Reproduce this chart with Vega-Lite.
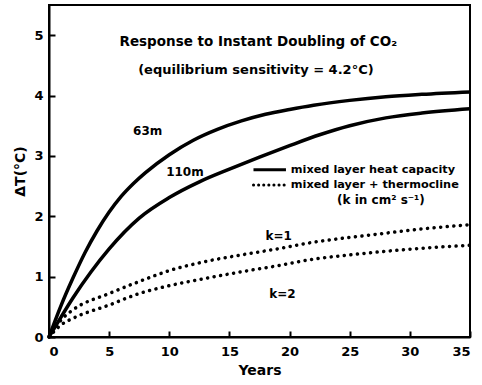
{
  "$schema": "https://vega.github.io/schema/vega-lite/v6.json",
  "autosize": "none",
  "width": 421,
  "height": 332,
  "padding": {"left": 49, "top": 5, "right": 12, "bottom": 48},
  "background": "white",
  "config": {
    "view": {"stroke": "black", "strokeWidth": 2},
    "font": "DejaVu Sans",
    "axis": {"grid": false, "domainColor": "black", "domainWidth": 2, "tickColor": "black", "tickWidth": 2, "labelColor": "black", "titleColor": "black", "labelFont": "DejaVu Sans", "titleFont": "DejaVu Sans", "labelFontWeight": "bold", "titleFontWeight": "bold", "labelFontSize": 13, "titleFontSize": 14}
  },
  "datasets": {
    "curves": [
      {"series": "63m", "style": "solid", "t": 0, "dT": 0},
      {"series": "63m", "style": "solid", "t": 1, "dT": 0.52},
      {"series": "63m", "style": "solid", "t": 2, "dT": 0.98},
      {"series": "63m", "style": "solid", "t": 3, "dT": 1.4},
      {"series": "63m", "style": "solid", "t": 4, "dT": 1.76},
      {"series": "63m", "style": "solid", "t": 5, "dT": 2.07},
      {"series": "63m", "style": "solid", "t": 6, "dT": 2.33},
      {"series": "63m", "style": "solid", "t": 7, "dT": 2.54},
      {"series": "63m", "style": "solid", "t": 8, "dT": 2.72},
      {"series": "63m", "style": "solid", "t": 10, "dT": 3.02},
      {"series": "63m", "style": "solid", "t": 12, "dT": 3.26},
      {"series": "63m", "style": "solid", "t": 14, "dT": 3.44},
      {"series": "63m", "style": "solid", "t": 16, "dT": 3.58},
      {"series": "63m", "style": "solid", "t": 18, "dT": 3.69},
      {"series": "63m", "style": "solid", "t": 20, "dT": 3.77},
      {"series": "63m", "style": "solid", "t": 22, "dT": 3.84},
      {"series": "63m", "style": "solid", "t": 25, "dT": 3.92},
      {"series": "63m", "style": "solid", "t": 28, "dT": 3.98},
      {"series": "63m", "style": "solid", "t": 31, "dT": 4.02},
      {"series": "63m", "style": "solid", "t": 35, "dT": 4.06},
      {"series": "110m", "style": "solid", "t": 0, "dT": 0},
      {"series": "110m", "style": "solid", "t": 1, "dT": 0.33},
      {"series": "110m", "style": "solid", "t": 2, "dT": 0.65},
      {"series": "110m", "style": "solid", "t": 3.5, "dT": 1.08},
      {"series": "110m", "style": "solid", "t": 5, "dT": 1.46},
      {"series": "110m", "style": "solid", "t": 7.5, "dT": 1.97},
      {"series": "110m", "style": "solid", "t": 10, "dT": 2.31},
      {"series": "110m", "style": "solid", "t": 12.5, "dT": 2.57},
      {"series": "110m", "style": "solid", "t": 15, "dT": 2.78},
      {"series": "110m", "style": "solid", "t": 17.5, "dT": 2.98},
      {"series": "110m", "style": "solid", "t": 20, "dT": 3.17},
      {"series": "110m", "style": "solid", "t": 22.5, "dT": 3.35},
      {"series": "110m", "style": "solid", "t": 25, "dT": 3.5},
      {"series": "110m", "style": "solid", "t": 28, "dT": 3.63},
      {"series": "110m", "style": "solid", "t": 31, "dT": 3.71},
      {"series": "110m", "style": "solid", "t": 35, "dT": 3.78},
      {"series": "k=1", "style": "dotted", "t": 0, "dT": 0},
      {"series": "k=1", "style": "dotted", "t": 1, "dT": 0.28},
      {"series": "k=1", "style": "dotted", "t": 2, "dT": 0.45},
      {"series": "k=1", "style": "dotted", "t": 5, "dT": 0.72},
      {"series": "k=1", "style": "dotted", "t": 7.5, "dT": 0.92},
      {"series": "k=1", "style": "dotted", "t": 10, "dT": 1.1},
      {"series": "k=1", "style": "dotted", "t": 13, "dT": 1.25},
      {"series": "k=1", "style": "dotted", "t": 16, "dT": 1.36},
      {"series": "k=1", "style": "dotted", "t": 19, "dT": 1.46},
      {"series": "k=1", "style": "dotted", "t": 22, "dT": 1.57},
      {"series": "k=1", "style": "dotted", "t": 25, "dT": 1.65},
      {"series": "k=1", "style": "dotted", "t": 28, "dT": 1.72},
      {"series": "k=1", "style": "dotted", "t": 31, "dT": 1.79},
      {"series": "k=1", "style": "dotted", "t": 35, "dT": 1.86},
      {"series": "k=2", "style": "dotted", "t": 0, "dT": 0},
      {"series": "k=2", "style": "dotted", "t": 1, "dT": 0.2},
      {"series": "k=2", "style": "dotted", "t": 2, "dT": 0.31},
      {"series": "k=2", "style": "dotted", "t": 5, "dT": 0.53},
      {"series": "k=2", "style": "dotted", "t": 7.5, "dT": 0.72},
      {"series": "k=2", "style": "dotted", "t": 10, "dT": 0.85},
      {"series": "k=2", "style": "dotted", "t": 13, "dT": 0.97},
      {"series": "k=2", "style": "dotted", "t": 16, "dT": 1.08},
      {"series": "k=2", "style": "dotted", "t": 19, "dT": 1.18},
      {"series": "k=2", "style": "dotted", "t": 22, "dT": 1.29},
      {"series": "k=2", "style": "dotted", "t": 25, "dT": 1.36},
      {"series": "k=2", "style": "dotted", "t": 28, "dT": 1.42},
      {"series": "k=2", "style": "dotted", "t": 31, "dT": 1.47},
      {"series": "k=2", "style": "dotted", "t": 35, "dT": 1.52}
    ],
    "titleText": [
      {"text": "Response to Instant Doubling of CO₂", "t": 17.4, "dT": 4.88, "size": 13.5},
      {"text": "(equilibrium sensitivity = 4.2°C)", "t": 17.2, "dT": 4.43, "size": 13}
    ],
    "centerText": [
      {"text": "63m", "t": 8.2, "dT": 3.42},
      {"text": "110m", "t": 11.3, "dT": 2.74},
      {"text": "k=1", "t": 19.1, "dT": 1.67},
      {"text": "k=2", "t": 19.4, "dT": 0.72},
      {"text": "(k in cm² s⁻¹)", "t": 27.6, "dT": 2.27}
    ],
    "legendText": [
      {"text": "mixed layer heat capacity", "t": 20.1, "dT": 2.77},
      {"text": "mixed layer + thermocline", "t": 20.1, "dT": 2.52}
    ],
    "legendSolid": [{"t": 17, "t2": 19.7, "dT": 2.77}],
    "legendDotted": [{"t": 17, "t2": 19.8, "dT": 2.52}]
  },
  "layer": [
    {
      "data": {"name": "curves"},
      "transform": [{"filter": "datum.style === 'solid'"}],
      "mark": {"type": "line", "color": "black", "strokeWidth": 3.5, "interpolate": "monotone"},
      "encoding": {
        "x": {"field": "t", "type": "quantitative", "scale": {"domain": [0, 35], "nice": false}, "axis": {"values": [0, 5, 10, 15, 20, 25, 30, 35], "format": "d", "tickSize": -6, "labelPadding": 14, "title": "Years", "titlePadding": 5}},
        "y": {"field": "dT", "type": "quantitative", "scale": {"domain": [0, 5.5], "nice": false}, "axis": {"values": [0, 1, 2, 3, 4, 5], "format": "d", "tickSize": -6, "labelPadding": 12, "title": "ΔT(°C)", "titlePadding": 6}},
        "detail": {"field": "series"}
      }
    },
    {
      "data": {"name": "curves"},
      "transform": [{"filter": "datum.style === 'dotted'"}],
      "mark": {"type": "line", "color": "black", "strokeWidth": 3.5, "strokeDash": [0.1, 6.5], "strokeCap": "round", "interpolate": "monotone"},
      "encoding": {
        "x": {"field": "t", "type": "quantitative"},
        "y": {"field": "dT", "type": "quantitative"},
        "detail": {"field": "series"}
      }
    },
    {
      "data": {"name": "legendSolid"},
      "mark": {"type": "rule", "color": "black", "strokeWidth": 3},
      "encoding": {
        "x": {"field": "t", "type": "quantitative"},
        "x2": {"field": "t2"},
        "y": {"field": "dT", "type": "quantitative"}
      }
    },
    {
      "data": {"name": "legendDotted"},
      "mark": {"type": "rule", "color": "black", "strokeWidth": 3, "strokeDash": [0.1, 5], "strokeCap": "round"},
      "encoding": {
        "x": {"field": "t", "type": "quantitative"},
        "x2": {"field": "t2"},
        "y": {"field": "dT", "type": "quantitative"}
      }
    },
    {
      "data": {"name": "titleText"},
      "mark": {"type": "text", "align": "center", "baseline": "middle", "font": "DejaVu Sans", "fontWeight": "bold", "color": "black"},
      "encoding": {
        "x": {"field": "t", "type": "quantitative"},
        "y": {"field": "dT", "type": "quantitative"},
        "text": {"field": "text"},
        "size": {"field": "size", "type": "quantitative", "scale": null}
      }
    },
    {
      "data": {"name": "centerText"},
      "mark": {"type": "text", "align": "center", "baseline": "middle", "font": "DejaVu Sans", "fontWeight": "bold", "fontSize": 12, "color": "black"},
      "encoding": {
        "x": {"field": "t", "type": "quantitative"},
        "y": {"field": "dT", "type": "quantitative"},
        "text": {"field": "text"}
      }
    },
    {
      "data": {"name": "legendText"},
      "mark": {"type": "text", "align": "left", "baseline": "middle", "font": "DejaVu Sans", "fontWeight": "bold", "fontSize": 11.3, "color": "black"},
      "encoding": {
        "x": {"field": "t", "type": "quantitative"},
        "y": {"field": "dT", "type": "quantitative"},
        "text": {"field": "text"}
      }
    }
  ]
}
